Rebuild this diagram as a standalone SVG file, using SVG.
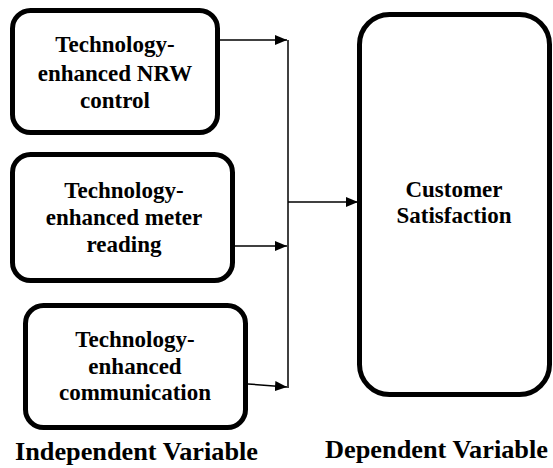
<svg xmlns="http://www.w3.org/2000/svg" width="553" height="468" viewBox="0 0 553 468">
<style>
.box{fill:#fff;stroke:#000;stroke-width:5}
.t{font-weight:bold;font-size:23px;fill:#000;text-anchor:middle}
.lbl{font-weight:bold;font-size:25px;fill:#000}
.c{stroke:#000;stroke-width:1.5;fill:none}
</style>
<defs>
<marker id="ah" markerWidth="12" markerHeight="10" refX="12" refY="5" orient="auto" markerUnits="userSpaceOnUse">
<path d="M0,0 L12,5 L0,10 Z" fill="#000"/>
</marker>
</defs>
<rect width="553" height="468" fill="#fff"/>
<g font-family="Liberation Serif, Times New Roman, DejaVu Serif, serif">
<g id="n1">
<rect class="box" x="12.5" y="10.5" width="205" height="122" rx="18"/>
<text class="t" x="115" y="52">Technology-</text>
<text class="t" x="115" y="81">enhanced NRW</text>
<text class="t" x="115" y="108">control</text>
</g>
<g id="n2">
<rect class="box" x="12.5" y="154.5" width="220" height="126" rx="18"/>
<text class="t" x="124" y="198">Technology-</text>
<text class="t" x="124" y="225">enhanced meter</text>
<text class="t" x="124" y="252">reading</text>
</g>
<g id="n3">
<rect class="box" x="25.5" y="305.5" width="220" height="122" rx="18"/>
<text class="t" x="135" y="347">Technology-</text>
<text class="t" x="135" y="374">enhanced</text>
<text class="t" x="135" y="400">communication</text>
</g>
<g id="n4">
<rect class="box" x="359.5" y="14.5" width="190" height="380" rx="30"/>
<text class="t" x="454" y="197">Customer</text>
<text class="t" x="454" y="223">Satisfaction</text>
</g>
<g id="labels">
<text class="lbl" x="15" y="460" textLength="243" lengthAdjust="spacingAndGlyphs">Independent Variable</text>
<text class="lbl" x="325" y="458" textLength="223" lengthAdjust="spacingAndGlyphs">Dependent Variable</text>
</g>
</g>
<g id="connectors">
<line class="c" x1="220" y1="40" x2="287" y2="40" marker-end="url(#ah)"/>
<line class="c" x1="235" y1="246" x2="287" y2="246" marker-end="url(#ah)"/>
<line class="c" x1="248" y1="384" x2="287" y2="387" marker-end="url(#ah)"/>
<line class="c" x1="288" y1="40" x2="288" y2="388"/>
<line class="c" x1="288" y1="202" x2="358" y2="202" marker-end="url(#ah)"/>
</g>
</svg>
